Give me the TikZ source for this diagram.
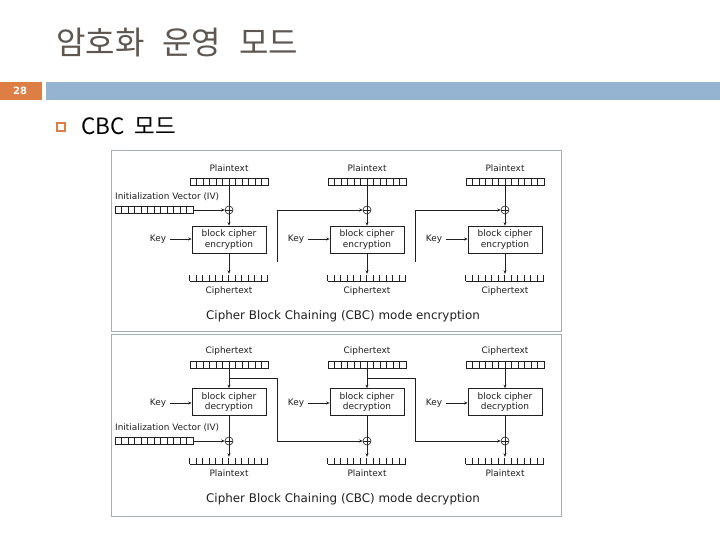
\documentclass[tikz,border=0pt]{standalone}
\usepackage{fontspec}
\setmainfont{DejaVu Sans}
\newfontfamily\krfont{Noto Sans CJK KR}
\usetikzlibrary{arrows.meta}
\definecolor{titlegray}{HTML}{5E5650}
\definecolor{slideorange}{HTML}{DD7E45}
\definecolor{slideblue}{HTML}{94B4D2}
\definecolor{panelgray}{HTML}{A3ADB2}
\definecolor{ink}{HTML}{202020}
\tikzset{
  lbl/.style={font=\fontsize{8.9}{10}\selectfont, text=ink, inner sep=0pt},
  caption/.style={font=\fontsize{11.9}{14}\selectfont, text=ink, inner sep=0pt},
  reg/.style={draw=ink, line width=0.7pt, minimum width=78pt, minimum height=7pt, inner sep=0pt,
    path picture={\foreach \i in {1,...,11}
      \draw[ink, line width=0.7pt] ([xshift=\i*6.5pt]path picture bounding box.south west) -- ([xshift=\i*6.5pt]path picture bounding box.north west);}},
  combbox/.style={minimum width=78pt, minimum height=6pt, inner sep=0pt},
  cipherbox/.style={draw=ink, line width=0.7pt, minimum width=74pt, minimum height=27pt, inner sep=0pt, align=center,
    font=\fontsize{9}{10.5}\selectfont, text=ink},
  xorsym/.style={circle, draw=ink, line width=0.6pt, minimum size=8pt, inner sep=0pt,
    path picture={\draw[ink, line width=0.6pt] (path picture bounding box.north) -- (path picture bounding box.south)
      (path picture bounding box.west) -- (path picture bounding box.east);}},
  conn/.style={draw=ink, line width=0.7pt, -{Stealth[length=3.5pt,width=3pt]}},
  plain/.style={draw=ink, line width=0.7pt},
  panel/.style={draw=panelgray, line width=1pt, fill=white},
}
\newcommand\drawcomb[1]{%
  \foreach \i in {0,...,12}
    \draw[ink, line width=0.7pt] ([xshift=\i*6.5pt]#1.south west) -- ([xshift=\i*6.5pt]#1.north west);
  \draw[ink, line width=0.7pt] (#1.south west) -- (#1.south east);}
\begin{document}
\begin{tikzpicture}[x=1pt,y=-1pt]
\useasboundingbox (0,0) rectangle (720,540);
\fill[white] (0,0) rectangle (720,540);
% header
\node[anchor=west, inner sep=0pt, text=titlegray, font=\krfont\fontsize{32}{36}\selectfont] (title) at (56,43) {암호화\hspace{18pt}운영\hspace{18pt}모드};
\fill[slideorange] (0,82) rectangle (42,100);
\node[text=white, font=\bfseries\fontsize{10}{12}\selectfont, inner sep=0pt] (pnum) at (20,91) {28};
\fill[slideblue] (46,82) rectangle (720,100);
\node[draw=slideorange, line width=1.6pt, minimum size=7.5pt, inner sep=0pt] (bullet) at (61,127) {};
\node[anchor=west, inner sep=0pt, text=black, font=\krfont\fontsize{22.5}{26}\selectfont] (sub) at (81,126) {CBC\hspace{10pt}모드};
% panels
\draw[panel] (111,151) rectangle (561,331);
\draw[panel] (111,334) rectangle (561,516);
% ===== encryption =====
\foreach \n/\cx in {1/229,2/367,3/505}{
  \node[lbl] (ept\n) at (\cx,168) {Plaintext};
  \node[reg] (eptr\n) at (\cx,181.5) {};
  \node[xorsym] (ex\n) at (\cx,210) {};
  \node[cipherbox] (eb\n) at (\cx,239.5) {block cipher\\encryption};
  \node[combbox] (ec\n) at (\cx,278) {};
  \drawcomb{ec\n}
  \node[lbl] (ect\n) at (\cx,291) {Ciphertext};
  \node[lbl] (ek\n) at (\cx-71,239) {Key};
  \draw[plain] (eptr\n) -- (ex\n);
  \draw[conn] (ex\n) -- (eb\n);
  \draw[conn] (eb\n) -- ([yshift=1pt]ec\n.north);
  \draw[conn] (ek\n.east) ++(4,0) coordinate (ekc\n) -- (ekc\n -| eb\n.west);
}
\node[lbl, anchor=west] (eiv) at (115,197) {Initialization Vector (IV)};
\node[reg] (eivr) at (154,210) {};
\draw[conn] (eivr) -- (ex1);
\coordinate (ech1) at (277,262);
\coordinate (ech2) at (415,262);
\draw[conn] (ech1) |- (ex2);
\draw[conn] (ech2) |- (ex3);
\node[caption] (ecap) at (343,316) {Cipher Block Chaining (CBC) mode encryption};
% ===== decryption =====
\foreach \n/\cx in {1/229,2/367,3/505}{
  \node[lbl] (dct\n) at (\cx,351) {Ciphertext};
  \node[reg] (dctr\n) at (\cx,364.5) {};
  \node[cipherbox] (db\n) at (\cx,402) {block cipher\\decryption};
  \node[xorsym] (dx\n) at (\cx,441) {};
  \node[combbox] (dp\n) at (\cx,461) {};
  \drawcomb{dp\n}
  \node[lbl] (dpt\n) at (\cx,473) {Plaintext};
  \node[lbl] (dk\n) at (\cx-71,403) {Key};
  \draw[conn] (dctr\n) -- (db\n);
  \draw[plain] (db\n) -- (dx\n);
  \draw[conn] (dx\n) -- ([yshift=1pt]dp\n.north);
  \draw[conn] (dk\n.east) ++(4,0) coordinate (dkc\n) -- (dkc\n -| db\n.west);
}
\node[lbl, anchor=west] (div) at (115,428) {Initialization Vector (IV)};
\node[reg] (divr) at (154,441) {};
\draw[conn] (divr) -- (dx1);
\coordinate (dbr1) at (229,378);
\coordinate (dbr2) at (367,378);
\draw[conn] (dbr1) -- (277,378) |- (dx2);
\draw[conn] (dbr2) -- (415,378) |- (dx3);
\node[caption] (dcap) at (343,499) {Cipher Block Chaining (CBC) mode decryption};
\end{tikzpicture}
\end{document}
